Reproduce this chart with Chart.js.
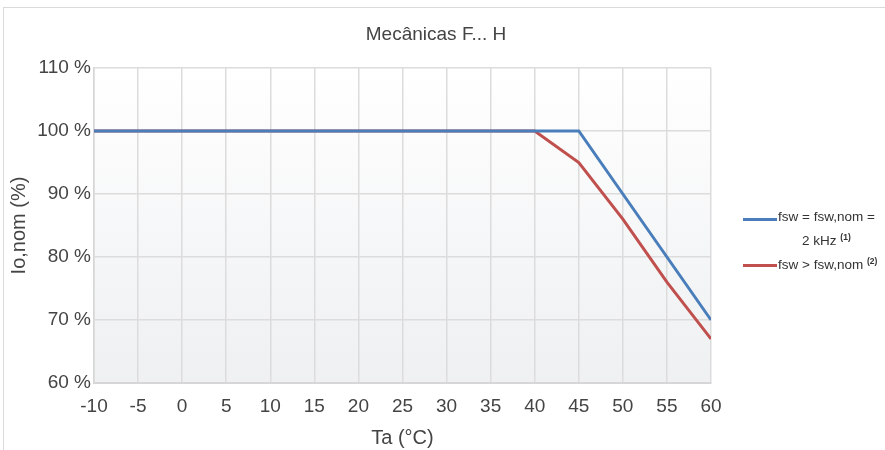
<!DOCTYPE html>
<html>
<head>
<meta charset="utf-8">
<script src="https://cdn.jsdelivr.net/npm/chart.js@4"></script>
<style>
    html, body { margin: 0; padding: 0; background: #fff; overflow: hidden; width: 885px; height: 450px; }
    .frame { position: absolute; left: 3px; top: 7px; width: 1000px; height: 600px; border: 1px solid #dadada; }
    #chart { position: absolute; left: 0; top: 0; }
    .title { position: absolute; left: 336px; width: 200px; top: 23px; text-align: center; font-family: "Liberation Sans", Arial, sans-serif; font-size: 19px; color: #444; white-space: nowrap; }
    .legend { position: absolute; font-family: "Liberation Sans", Arial, sans-serif; font-size: 13.5px; color: #333; white-space: nowrap; }
    .legend .swatch { position: absolute; width: 34px; height: 3px; }
    .legend .txt { position: absolute; line-height: 21px; text-align: center; }
    .legend sup { font-size: 8.5px; font-weight: bold; vertical-align: 5px; }
</style>
</head>
<body>
<div class="frame"></div>
<canvas id="chart" width="885" height="450"></canvas>
<div class="title">Mecânicas F... H</div>
<div class="legend" style="left:743px; top:206px;">
    <div class="swatch" style="left:0; top:12px; background:#4a7ebb;"></div>
    <div class="txt" style="left:35px; top:0;">fsw = fsw,nom =<br>2 kHz <sup>(1)</sup></div>
    <div class="swatch" style="left:0; top:58px; background:#c0504d;"></div>
    <div class="txt" style="left:35px; top:45px; text-align:left;">fsw &gt; fsw,nom <sup>(2)</sup></div>
</div>
<script>
// temperatura ambiente (°C) e corrente nominal (%)
const tempBlue = [-10, 45, 50, 55, 60];
const ioBlue = [100, 100, 90, 80, 70];
const tempRed = [-10, 40, 45, 50, 55, 60];
const ioRed = [100, 100, 95, 86, 76, 67];
const yTicks = [60, 70, 80, 90, 100, 110];

const toPoints = (xs, ys) => xs.map((x, i) => ({ x: x, y: ys[i] }));

// fundo da área do gráfico com degradê
const plotBg = {
    id: 'plotBg',
    beforeDraw(chart) {
        const { ctx, chartArea } = chart;
        const g = ctx.createLinearGradient(0, chartArea.top, 0, chartArea.bottom);
        g.addColorStop(0, '#ffffff');
        g.addColorStop(1, '#eef0f1');
        ctx.save();
        ctx.fillStyle = g;
        ctx.fillRect(chartArea.left, chartArea.top, chartArea.width, chartArea.height);
        ctx.restore();
    }
};

const fontFam = '"Liberation Sans", Arial, sans-serif';

new Chart(document.getElementById('chart'), {
    type: 'line',
    data: {
        datasets: [{
            label: 'fsw = fsw,nom = 2 kHz',
            data: toPoints(tempBlue, ioBlue),
            borderColor: '#4a7ebb',
            borderWidth: 3,
            pointRadius: 0,
            tension: 0
        }, {
            label: 'fsw > fsw,nom',
            data: toPoints(tempRed, ioRed),
            borderColor: '#c0504d',
            borderWidth: 3,
            pointRadius: 0,
            tension: 0
        }]
    },
    options: {
        responsive: false,
        animation: false,
        layout: { padding: { left: 0, right: 174, top: 68, bottom: 0 } },
        plugins: {
            legend: { display: false },
            tooltip: { enabled: false }
        },
        scales: {
            x: {
                type: 'linear',
                min: -10,
                max: 60,
                afterFit: s => { s.height = 67; },
                grid: { color: '#dcdcdc', lineWidth: 1.5, drawTicks: false },
                border: { color: '#d6d6d6', width: 2 },
                ticks: {
                    stepSize: 5,
                    padding: 12,
                    color: '#444',
                    font: { family: fontFam, size: 19 }
                },
                title: {
                    display: true,
                    text: 'Ta (°C)',
                    color: '#444',
                    font: { family: fontFam, size: 20 },
                    padding: { top: 0, bottom: 0 }
                }
            },
            y: {
                min: 60,
                max: 110,
                afterFit: s => { s.width = 94; },
                afterBuildTicks: s => { s.ticks = yTicks.map(v => ({ value: v })); },
                grid: { color: '#dcdcdc', lineWidth: 1.5, drawTicks: false },
                border: { color: '#d6d6d6', width: 1.5 },
                ticks: {
                    padding: 3,
                    color: '#444',
                    font: { family: fontFam, size: 19 },
                    callback: v => v + ' %'
                },
                title: {
                    display: true,
                    text: 'Io,nom (%)',
                    color: '#444',
                    font: { family: fontFam, size: 20 },
                    padding: { top: 7, bottom: 0 }
                }
            }
        }
    },
    plugins: [plotBg]
});
</script>
</body>
</html>
